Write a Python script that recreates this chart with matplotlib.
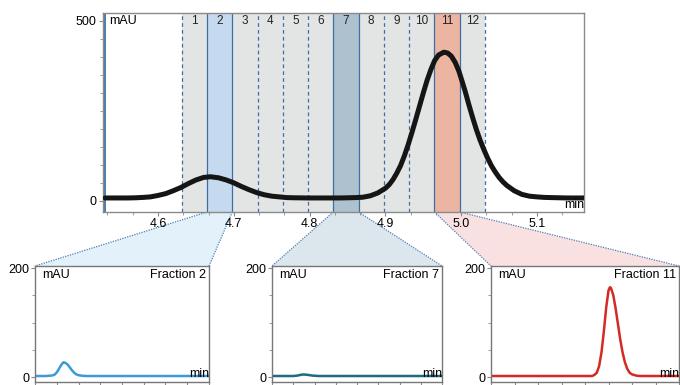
import numpy as np
import matplotlib.pyplot as plt
from matplotlib.patches import Polygon
from matplotlib.ticker import MultipleLocator, FixedLocator

plt.rcParams['font.family'] = ['Liberation Sans', 'DejaVu Sans']

# main chromatogram (first dimension)
t_main = [4.53, 4.54, 4.55, 4.56, 4.57, 4.58, 4.59, 4.60, 4.61, 4.62, 4.63, 4.64,
          4.65, 4.66, 4.669, 4.68, 4.69, 4.70, 4.71, 4.72, 4.73, 4.74, 4.75, 4.76,
          4.77, 4.78, 4.80, 4.82, 4.84, 4.86, 4.87, 4.88, 4.89, 4.90, 4.905, 4.91,
          4.915, 4.92, 4.925, 4.93, 4.935, 4.94, 4.945, 4.95, 4.955, 4.96, 4.965,
          4.97, 4.977, 4.982, 4.987, 4.992, 4.997, 5.00, 5.005, 5.01, 5.015, 5.02,
          5.025, 5.03, 5.035, 5.04, 5.045, 5.05, 5.055, 5.06, 5.07, 5.08, 5.09,
          5.10, 5.11, 5.12, 5.14, 5.162]
mau_main = [8, 8, 8, 8, 8.5, 9.5, 11, 15, 20, 28, 37, 48,
            58, 65, 67, 64, 58, 50, 40, 31, 23, 17, 13, 11,
            9, 8.5, 8, 8, 8, 9, 10, 14, 22, 35, 45, 59,
            77, 98, 125, 156, 190, 226, 263, 300, 335, 365, 390,
            405, 413, 411, 402, 385, 360, 340, 306, 268, 232, 198,
            168, 142, 118, 97, 80, 65, 53, 43, 28, 18, 13,
            11, 9.5, 9, 8, 8]

fractions = [str(i) for i in range(1, 13)]
frac_start = 4.6313   # fraction boundaries every 2 s
frac_width = 1 / 30
highlight = {2: '#c6daef', 7: '#adc1ce', 11: '#ebb5a1'}

# second dimension chromatograms of three fractions
x_f2 = [0, 0.5, 0.8, 0.9, 1.0, 1.1, 1.2, 1.3, 1.33, 1.4, 1.5, 1.6, 1.7, 1.8, 1.9, 2.0, 2.2, 2.4, 8]
y_f2 = [2, 2, 3, 4.5, 8.5, 15, 22, 27, 27, 26, 23, 18, 12.5, 8, 5, 3.5, 2.3, 2, 2]
x_f7 = [0, 1.0, 1.2, 1.4, 1.5, 1.7, 1.9, 2.2, 8]
y_f7 = [2, 2, 2.8, 4.5, 4.8, 4, 2.8, 2, 2]
x_f11 = [0, 4.3, 4.4, 4.5, 4.6, 4.7, 4.8, 4.9, 5.0, 5.06, 5.1, 5.2, 5.3, 5.4,
         5.5, 5.6, 5.7, 5.8, 5.9, 6.0, 6.2, 6.4, 8]
y_f11 = [2, 2, 4, 8, 20, 45, 83, 127, 159, 165, 164, 151, 127, 98,
         69, 45, 27, 15, 8, 5, 2.5, 2, 2]

insets = [
    (2, x_f2, y_f2, '#3b9bd8', '#e2f1fa', [35, 209]),
    (7, x_f7, y_f7, '#1e6a80', '#dbe7ec', [272, 442]),
    (11, x_f11, y_f11, '#d42a24', '#f9e1e1', [491, 679]),
]

W, H = 680, 385
fig = plt.figure(figsize=(W / 100, H / 100), dpi=100)

edge_blue = '#3e6ea6'
spine_grey = '#8a8a8a'

ax = fig.add_axes([103 / W, (H - 212) / H, (584 - 103) / W, (212 - 13) / H])
ax.set_xlim(4.5274, 5.162)
ax.set_ylim(-31, 522)

# fraction bands
for i, name in enumerate(fractions):
    x0 = frac_start + i * frac_width
    ax.axvspan(x0, x0 + frac_width, color=highlight.get(i + 1, '#e3e4e4'), lw=0, zorder=0)
    ax.text(x0 + frac_width / 2, 0.962, name, transform=ax.get_xaxis_transform(),
            ha='center', va='center', fontsize=8.5, color='#222222')
for i in range(len(fractions) + 1):
    xb = frac_start + i * frac_width
    solid = (i in highlight) or (i + 1 in highlight)
    ax.axvline(xb, color=edge_blue, lw=0.9, ls='-' if solid else (0, (3, 2.5)), zorder=1)
ax.axvline(4.530, color=edge_blue, lw=1.3, zorder=1)

ax.plot(t_main, mau_main, color='#151515', lw=3.6, solid_capstyle='round',
        solid_joinstyle='round', zorder=3)

ax.set_yticks([0, 500])
ax.yaxis.set_minor_locator(MultipleLocator(50))
ax.set_xticks([4.6, 4.7, 4.8, 4.9, 5.0, 5.1])
ax.set_xticklabels(['4.6', '4.7', '4.8', '4.9', '5.0', '5.1'])
ax.xaxis.set_minor_locator(FixedLocator([4.5 + k / 30 for k in range(1, 20)]))
ax.tick_params(which='both', direction='out', color=spine_grey, labelsize=9, pad=1.5)
ax.tick_params(which='major', length=3)
ax.tick_params(which='minor', length=2.5)
for s in ax.spines.values():
    s.set_color(spine_grey)
    s.set_linewidth(1)
ax.text(0.012, 0.962, 'mAU', transform=ax.transAxes, ha='left', va='center', fontsize=9)
ax.text(1.0, 0.005, 'min', transform=ax.transAxes, ha='right', va='bottom', fontsize=9)

fig.canvas.draw()
to_fig = fig.transFigure.inverted()

for frac, xs, ys, col, fill, (left, right) in insets:
    iax = fig.add_axes([left / W, (H - 382) / H, (right - left) / W, (382 - 266) / H])
    iax.plot(xs, ys, color=col, lw=1.8, solid_joinstyle='round')
    iax.set_xlim(0, 8)
    iax.set_ylim(-9, 204)
    iax.set_yticks([0, 200])
    iax.yaxis.set_minor_locator(MultipleLocator(50))
    iax.set_xticks(range(0, 9))
    iax.set_xticklabels([])
    iax.tick_params(which='both', direction='out', color=spine_grey, labelsize=9, pad=1)
    iax.tick_params(which='major', length=3)
    iax.tick_params(which='minor', length=2.5)
    for s in iax.spines.values():
        s.set_color('#777777')
        s.set_linewidth(1)
    iax.text(0.04, 0.92, 'mAU', transform=iax.transAxes, ha='left', va='center', fontsize=9)
    iax.text(0.985, 0.92, 'Fraction %d' % frac, transform=iax.transAxes,
             ha='right', va='center', fontsize=9)
    iax.text(1.0, 0.02, 'min', transform=iax.transAxes, ha='right', va='bottom', fontsize=9)

    # connector from the fraction on the main trace to the inset
    b0 = frac_start + (frac - 1) * frac_width
    b1 = b0 + frac_width
    ymin = ax.get_ylim()[0]
    p0 = to_fig.transform(ax.transData.transform((b0, ymin)))
    p1 = to_fig.transform(ax.transData.transform((b1, ymin)))
    q0 = to_fig.transform(iax.transAxes.transform((0, 1)))
    q1 = to_fig.transform(iax.transAxes.transform((1, 1)))
    fig.add_artist(Polygon([p0, p1, q1, q0], closed=True, transform=fig.transFigure,
                           facecolor=fill, edgecolor='none', zorder=-1))
    for a, b in [(p0, q0), (p1, q1)]:
        fig.add_artist(plt.Line2D([a[0], b[0]], [a[1], b[1]], transform=fig.transFigure,
                                  color='#4f7fb5', lw=0.9, ls=(0, (1, 1)), zorder=-1))

fig.savefig('out.png', dpi=100)
